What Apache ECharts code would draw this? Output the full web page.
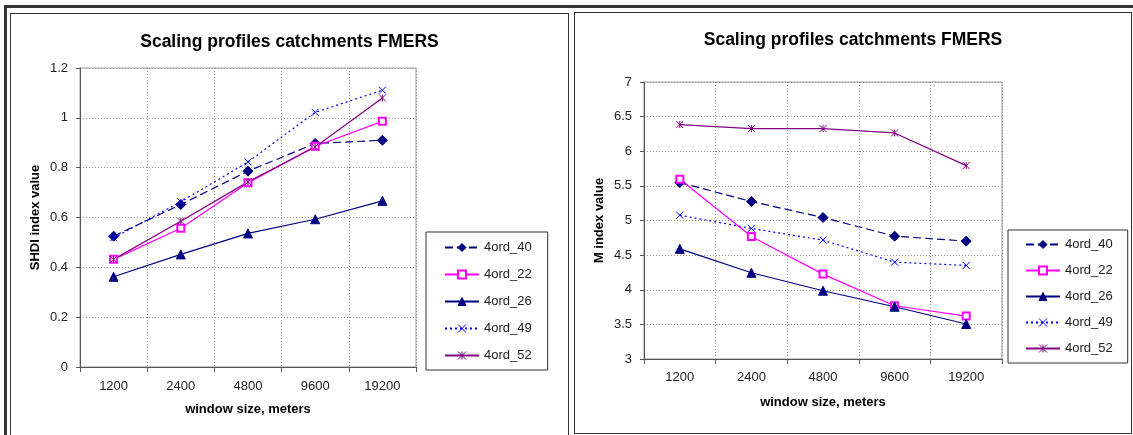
<!DOCTYPE html>
<html>
<head>
<meta charset="UTF-8">
<title>Scaling profiles catchments FMERS</title>
<script src="https://cdn.jsdelivr.net/npm/echarts@6/dist/echarts.min.js"></script>
<style type="text/css">
	*{margin: 0; padding: 0;}
	body{ width: 1133px; height: 435px; overflow: hidden; background: #fff; position: relative; }
	.frame{
		position: absolute; left: 4px; top: 5px; right: 0; bottom: -10px;
		border-top: 3px solid #333; border-left: 3px solid #333;
	}
	.panel{ position: absolute; border: 1px solid #333; background: #fff; }
	#left{ left: 10px; top: 13px; width: 557px; height: 440px; }
	#right{ left: 574px; top: 12px; width: 556px; height: 420px; }
</style>
</head>
<body>
<div class="frame"></div>
<div class="panel" id="left"></div>
<div class="panel" id="right"></div>
<script type="text/javascript">
	// window sizes on the x axis
	var windowSizes = ['1200', '2400', '4800', '9600', '19200'];
	var seriesNames = ['4ord_40', '4ord_22', '4ord_26', '4ord_49', '4ord_52'];

	// SHDI index value (left chart)
	var shdi40 = [0.525, 0.652, 0.786, 0.897, 0.910];
	var shdi22 = [0.432, 0.557, 0.739, 0.886, 0.986];
	var shdi26 = [0.362, 0.452, 0.536, 0.593, 0.667];
	var shdi49 = [0.518, 0.663, 0.823, 1.022, 1.111];
	var shdi52 = [0.432, 0.585, 0.743, 0.883, 1.080];

	// M index value (right chart)
	var m40 = [5.548, 5.274, 5.043, 4.774, 4.702];
	var m22 = [5.596, 4.769, 4.226, 3.769, 3.620];
	var m26 = [4.591, 4.245, 3.986, 3.755, 3.505];
	var m49 = [5.077, 4.885, 4.716, 4.399, 4.351];
	var m52 = [6.385, 6.327, 6.327, 6.264, 5.793];

	// excel-ish series styles
	var lineColors = ['#000080', '#ff00ff', '#000080', '#0000ff', '#800080'];
	var lineTypes = [[8, 4], 'solid', 'solid', [2, 3], 'solid'];
	var symbols = ['diamond', 'emptyRect', 'triangle',
		'path://M0,0L10,10M10,0L0,10',
		'path://M0,0L10,10M10,0L0,10M5,0L5,10'];
	var symbolSizes = [10, 7, 9, 7, 7];
	var font = '"Liberation Sans", Arial, sans-serif';

	function buildSeries(lists) {
		return lists.map(function (data, i) {
			return {
				name: seriesNames[i],
				type: 'line',
				data: data,
				symbol: symbols[i],
				symbolSize: symbolSizes[i],
				showAllSymbol: true,
				lineStyle: { color: lineColors[i], width: 1.2, type: lineTypes[i] },
				itemStyle: { color: lineColors[i], borderColor: lineColors[i], borderWidth: 1 }
			};
		});
	}

	function buildOption(cfg) {
		return {
			animation: false,
			textStyle: { fontFamily: font },
			title: {
				text: 'Scaling profiles catchments FMERS',
				left: 'center',
				top: cfg.titleTop,
				textStyle: { fontSize: 17.5, fontWeight: 'bold', color: '#000', fontFamily: font }
			},
			legend: {
				orient: 'vertical',
				left: cfg.legendLeft,
				top: cfg.legendTop,
				data: seriesNames,
				itemWidth: 34,
				itemHeight: 10,
				itemGap: cfg.legendGap,
				padding: cfg.legendPad,
				borderColor: '#333',
				borderWidth: 1,
				backgroundColor: '#fff',
				itemStyle: { borderWidth: 1 },
				textStyle: { fontSize: 13, color: '#222', fontFamily: font }
			},
			grid: {
				left: cfg.grid[0], top: cfg.grid[1], width: cfg.grid[2], height: cfg.grid[3],
				show: true, borderColor: '#999', borderWidth: 1, backgroundColor: 'transparent'
			},
			xAxis: {
				type: 'category',
				data: windowSizes,
				boundaryGap: true,
				name: 'window size, meters',
				nameLocation: 'middle',
				nameGap: cfg.xNameGap,
				nameMoveOverlap: false,
				nameTextStyle: { fontSize: 13, fontWeight: 'bold', color: '#000' },
				axisLine: { lineStyle: { color: '#555' } },
				axisTick: { show: true, length: 5, lineStyle: { color: '#555' } },
				axisLabel: { fontSize: 13, color: '#222', margin: cfg.xLabelMargin },
				splitLine: { show: true, lineStyle: { color: '#999', type: [1, 2] } }
			},
			yAxis: {
				type: 'value',
				min: cfg.yMin, max: cfg.yMax, interval: cfg.yStep,
				name: cfg.yName,
				nameLocation: 'middle',
				nameGap: cfg.yNameGap,
				nameMoveOverlap: false,
				nameTextStyle: { fontSize: 13, fontWeight: 'bold', color: '#000' },
				axisLine: { show: true, lineStyle: { color: '#555' } },
				axisTick: { show: true, length: 4, lineStyle: { color: '#555' } },
				axisLabel: { fontSize: 13, color: '#222', margin: 12 },
				splitLine: { show: true, lineStyle: { color: '#999', type: [1, 2] } }
			},
			series: buildSeries(cfg.lists)
		};
	}

	var leftChart = echarts.init(document.getElementById('left'));
	leftChart.setOption(buildOption({
		titleTop: 14,
		legendLeft: 415, legendTop: 218, legendGap: 14, legendPad: [9, 16, 8, 18],
		grid: [69, 54, 336, 299],
		xNameGap: 36, xLabelMargin: 13,
		yMin: 0, yMax: 1.2, yStep: 0.2, yName: 'SHDI index value', yNameGap: 38,
		lists: [shdi40, shdi22, shdi26, shdi49, shdi52]
	}));

	var rightChart = echarts.init(document.getElementById('right'));
	rightChart.setOption(buildOption({
		titleTop: 13,
		legendLeft: 433, legendTop: 217, legendGap: 13, legendPad: [8, 15, 8, 17],
		grid: [69, 69, 358, 277],
		xNameGap: 37, xLabelMargin: 12,
		yMin: 3, yMax: 7, yStep: 0.5, yName: 'M index value', yNameGap: 38,
		lists: [m40, m22, m26, m49, m52]
	}));
</script>
</body>
</html>
